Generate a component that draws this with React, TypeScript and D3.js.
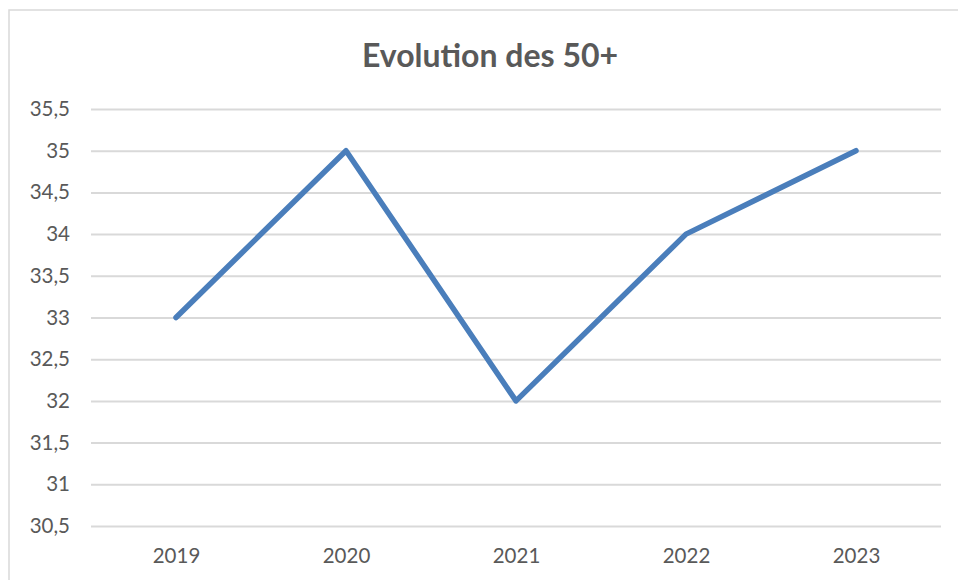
import { useEffect, useRef } from "react";
import * as d3 from "d3";

const years = ["2019", "2020", "2021", "2022", "2023"];
const values = [33, 35, 32, 34, 35];
const yTicks = [30.5, 31, 31.5, 32, 32.5, 33, 33.5, 34, 34.5, 35, 35.5];

const W = 958;
const H = 580;
const font = "Lato, 'Open Sans', sans-serif";
const textColor = "#595959";

export default function App() {
    const ref = useRef<SVGSVGElement>(null);

    useEffect(() => {
        const svg = d3.select(ref.current);
        svg.selectAll("*").remove();

        // chart frame (right and bottom edges are cut off)
        svg.append("rect")
            .attr("x", 9)
            .attr("y", 10)
            .attr("width", 1000)
            .attr("height", 700)
            .attr("fill", "white")
            .attr("stroke", "#d9d9d9")
            .attr("stroke-width", 1.5);

        const x = d3.scalePoint<string>().domain(years).range([91, 941]).padding(0.5);
        const y = d3.scaleLinear().domain([30.5, 35.5]).range([526, 109]);

        // title
        svg.append("text")
            .attr("x", 490)
            .attr("y", 67)
            .attr("text-anchor", "middle")
            .attr("font-family", font)
            .attr("font-weight", "bold")
            .attr("font-size", 32)
            .attr("fill", textColor)
            .text("Evolution des 50+");

        // gridlines + y labels
        const fmt = (d: number) => String(d).replace(".", ",");
        const yAxis = svg.append("g")
            .attr("transform", "translate(91,0)")
            .call(
                d3.axisLeft(y)
                    .tickValues(yTicks)
                    .tickSize(-850)
                    .tickPadding(21)
                    .tickFormat((d) => fmt(d as number))
            );
        yAxis.select(".domain").remove();
        yAxis.selectAll(".tick line").attr("stroke", "#d9d9d9").attr("stroke-width", 2);
        yAxis.selectAll(".tick text")
            .attr("font-family", font)
            .attr("font-size", 20.5)
            .attr("fill", textColor);

        // x labels
        const xAxis = svg.append("g")
            .attr("transform", "translate(0,526)")
            .call(d3.axisBottom(x).tickSize(0).tickPadding(22));
        xAxis.select(".domain").remove();
        xAxis.selectAll(".tick text")
            .attr("font-family", font)
            .attr("font-size", 20.5)
            .attr("fill", textColor);

        // series line
        const line = d3.line<number>()
            .x((_, i) => x(years[i]) as number)
            .y((d) => y(d));
        svg.append("path")
            .datum(values)
            .attr("d", line)
            .attr("fill", "none")
            .attr("stroke", "#4a7ebb")
            .attr("stroke-width", 5.5)
            .attr("stroke-linejoin", "round")
            .attr("stroke-linecap", "round");
    }, []);

    return (
        <svg
            ref={ref}
            width={W}
            height={H}
            style={{ position: "absolute", left: 0, top: 0, background: "white" }}
        ></svg>
    );
}
